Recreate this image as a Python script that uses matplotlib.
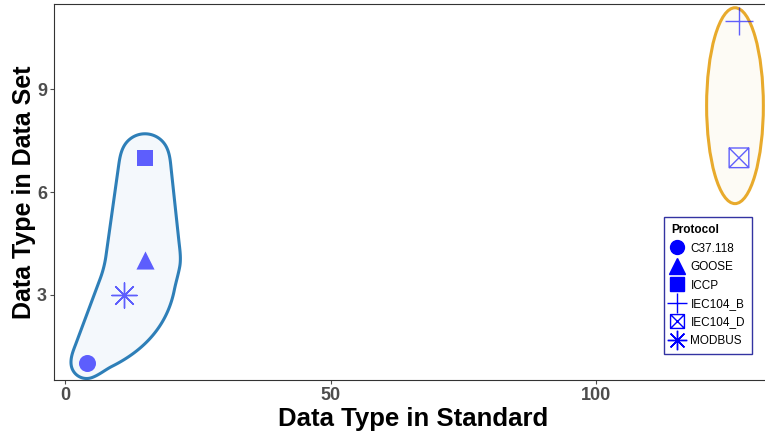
import numpy as np
import matplotlib.pyplot as plt
from matplotlib.path import Path
from matplotlib.patches import Ellipse, Polygon
from matplotlib.lines import Line2D

plt.rcParams['font.family'] = ['Liberation Sans', 'DejaVu Sans']

# protocol data types: count in standard vs. count in data set
protocols = ["C37.118", "GOOSE", "ICCP", "IEC104_B", "IEC104_D", "MODBUS"]
in_standard = [4, 15, 15, 127, 127, 11]
in_dataset = [1, 4, 7, 11, 7, 3]

# hull groups (order of points around the outline), padding per point and
# extra outward bulge per edge, px
group_left = ["C37.118", "GOOSE", "ICCP", "MODBUS"]
pad_left = [17, 36, 25, 23]
bulge_left = [18, 0, 0, 0]
group_right = ["IEC104_B", "IEC104_D"]

# square with a cross inside
boxx = Path([(-1, -1), (1, -1), (1, 1), (-1, 1), (-1, -1), (1, 1), (-1, 1), (1, -1)],
            [Path.MOVETO, Path.LINETO, Path.LINETO, Path.LINETO, Path.LINETO,
             Path.LINETO, Path.MOVETO, Path.LINETO])
star = (8, 2, 0)
markers = ["o", "^", "s", "+", boxx, star]
sizes = [150, 170, 140, 380, 200, 330]
leg_sizes = [10, 11, 9.5, 15, 10, 14]

fig = plt.figure(figsize=(7.65, 4.34), dpi=100)
ax = fig.add_axes([0.0706, 0.1244, 0.938, 0.8664])
ax.set_xlim(-2.15, 133.15)
ax.set_ylim(0.5, 11.5)

# hull around the left group: tapered offset of the concave polygon,
# computed as a distance field in pixel space, then smoothed
fig.canvas.draw()
px_x = ax.transData.transform((1, 0))[0] - ax.transData.transform((0, 0))[0]
px_y = ax.transData.transform((0, 1))[1] - ax.transData.transform((0, 0))[1]
idx = [protocols.index(p) for p in group_left]
poly = np.array([[in_standard[i] * px_x, in_dataset[i] * px_y] for i in idx])

gx = np.linspace(-8, 35, 500)
gy = np.linspace(-1, 10, 500)
GX, GY = np.meshgrid(gx, gy)
P = np.column_stack([GX.ravel() * px_x, GY.ravel() * px_y])
field = np.full(len(P), np.inf)
for k in range(len(poly)):
    k2 = (k + 1) % len(poly)
    a, b = poly[k], poly[k2]
    ab = b - a
    t = np.clip(((P - a) @ ab) / (ab @ ab), 0, 1)
    d = np.hypot(*(P - (a + t[:, None] * ab)).T)
    outward = (ab[0] * (P[:, 1] - a[1]) - ab[1] * (P[:, 0] - a[0])) < 0
    r = pad_left[k] + t * (pad_left[k2] - pad_left[k])
    r = r + np.where(outward, bulge_left[k] * 4 * t * (1 - t), 0)
    field = np.minimum(field, d - r)
field[Path(poly).contains_points(P)] = -50
field = field.reshape(GX.shape)

cs = ax.contour(GX, GY, field, levels=[0])
verts = max(cs.get_paths()[0].to_polygons(), key=len)
cs.remove()
vp = verts * [px_x, px_y]
seg = np.hypot(*np.diff(vp, axis=0).T)
s = np.concatenate([[0], np.cumsum(seg)])
su = np.linspace(0, s[-1], 600, endpoint=False)
vx = np.interp(su, s, vp[:, 0])
vy = np.interp(su, s, vp[:, 1])
w = int(600 * 24 / s[-1]) | 1
kern = np.ones(w) / w
vx = np.convolve(np.r_[vx[-w:], vx, vx[:w]], kern, mode="same")[w:-w]
vy = np.convolve(np.r_[vy[-w:], vy, vy[:w]], kern, mode="same")[w:-w]
outline = np.column_stack([vx / px_x, vy / px_y])
ax.add_patch(Polygon(outline, closed=True, facecolor="#f4f8fc",
                     edgecolor="#2e7fb8", lw=2.2, zorder=1))

# ellipse around the right group
ridx = [protocols.index(p) for p in group_right]
rx = [in_standard[i] for i in ridx]
ry = [in_dataset[i] for i in ridx]
x0, x1 = min(rx) - 6.1, max(rx) + 4.6
y0, y1 = min(ry) - 1.34, max(ry) + 0.39
ax.add_patch(Ellipse(((x0 + x1) / 2, (y0 + y1) / 2), x1 - x0, y1 - y0,
                     facecolor="#fdfbf5", edgecolor="#e8aa2c", lw=2.2, zorder=1))

# points
handles = []
for p, x, y, m, sz, ls in zip(protocols, in_standard, in_dataset, markers, sizes, leg_sizes):
    if m is boxx:
        ax.scatter(x, y, marker=m, s=sz, facecolors="none", edgecolors="blue",
                   alpha=0.62, linewidths=1.0, zorder=3)
    elif m in ("+", star):
        ax.scatter(x, y, marker=m, s=sz, color="blue", alpha=0.62,
                   linewidths=1.0, zorder=3)
    else:
        ax.scatter(x, y, marker=m, s=sz, color="blue", alpha=0.62,
                   linewidths=0, zorder=3)
    handles.append(Line2D([], [], marker=m, ls="none", color="blue",
                          markerfacecolor="none" if m is boxx else "blue",
                          markersize=ls, markeredgewidth=1.0, label=p))

leg = ax.legend(handles=handles, title="Protocol", loc="lower right",
                bbox_to_anchor=(0.9727, 0.069), fontsize=8.5, title_fontsize=8.5,
                frameon=True, fancybox=False, handlelength=1.0, handletextpad=0.6,
                labelspacing=0.55, borderpad=0.6, borderaxespad=0)
leg.get_title().set_fontweight("bold")
leg._legend_box.align = "left"
leg.get_frame().set_edgecolor("#00008b")
leg.get_frame().set_linewidth(1.0)

ax.set_xticks([0, 50, 100])
ax.set_yticks([3, 6, 9])
ax.tick_params(colors="#4d4d4d", labelsize=13, width=0.8, length=3, pad=2)
for lab in ax.get_xticklabels() + ax.get_yticklabels():
    lab.set_fontweight("bold")
for sp in ax.spines.values():
    sp.set_color("#333333")
    sp.set_linewidth(0.8)

ax.set_xlabel("Data Type in Standard", fontsize=18.5, fontweight="bold", labelpad=2)
ax.set_ylabel("Data Type in Data Set", fontsize=18, fontweight="bold", labelpad=1)

fig.savefig("out.png", dpi=100)
